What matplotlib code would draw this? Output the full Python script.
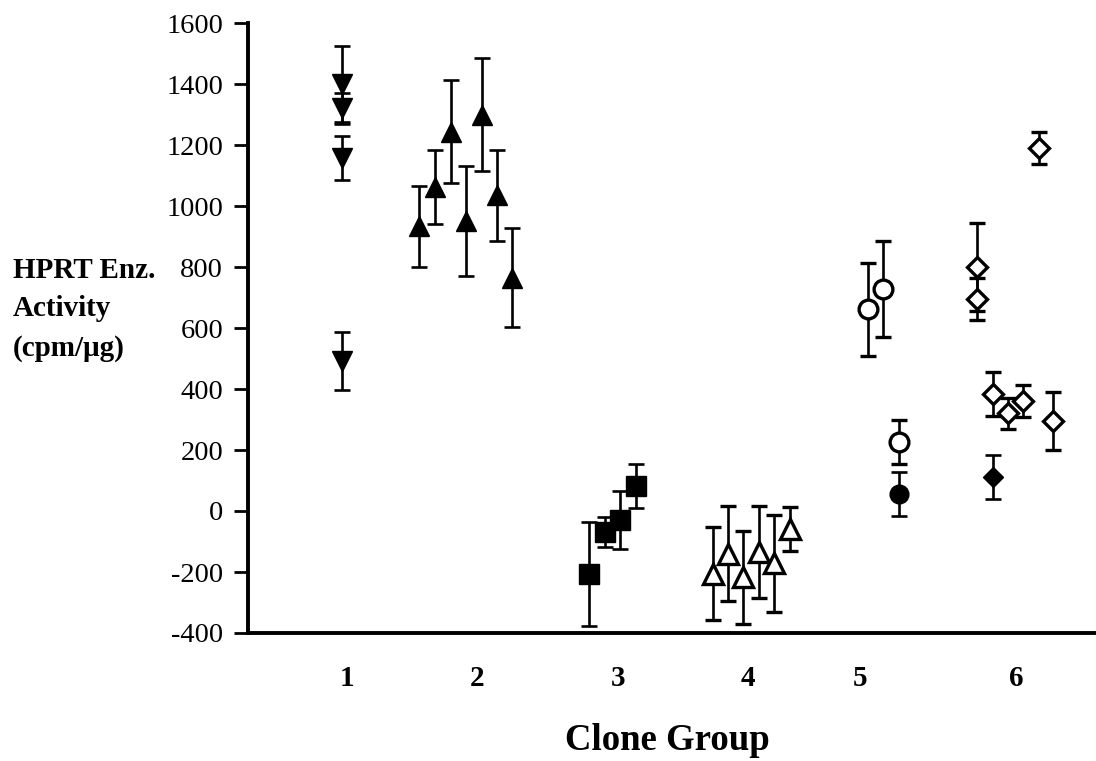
import matplotlib
matplotlib.use('Agg')
import matplotlib.pyplot as plt

plt.rcParams['font.family'] = ['Liberation Serif', 'DejaVu Serif']
plt.rcParams['axes.unicode_minus'] = False

# ---------------- data ----------------
g1_x = [0.962, 0.962, 0.962, 0.962]
g1_y = [1400, 1320, 1157, 492]
g1_err = [125, 50, 73, 95]

g2_x = [1.554, 1.677, 1.800, 1.915, 2.038, 2.154, 2.269]
g2_y = [934, 1062, 1244, 950, 1300, 1035, 765]
g2_err = [133, 121, 168, 180, 185, 150, 163]

g3_x = [2.862, 2.985, 3.100, 3.223]
g3_y = [-206, -69, -30, 82]
g3_err = [170, 50, 95, 71]

g4_x = [3.815, 3.931, 4.046, 4.169, 4.285, 4.408]
g4_y = [-205, -140, -218, -135, -172, -58]
g4_err = [153, 155, 152, 150, 160, 72]

g5_open_x = [5.008, 5.123, 5.246]
g5_open_y = [661, 727, 227]
g5_open_err = [153, 158, 72]
g5_fill_x = [5.246]
g5_fill_y = [55]
g5_fill_err = [73]

g6_open_x = [5.844, 5.844, 5.964, 6.082, 6.202, 6.318, 6.433]
g6_open_y = [800, 695, 383, 320, 360, 1191, 295]
g6_open_err = [143, 70, 73, 50, 52, 52, 95]
g6_fill_x = [5.964]
g6_fill_y = [112]
g6_fill_err = [72]

group_labels = ['1', '2', '3', '4', '5', '6']
group_ticks = [1.0, 2.0, 3.085, 4.085, 4.946, 6.15]
y_ticks = [-400, -200, 0, 200, 400, 600, 800, 1000, 1200, 1400, 1600]

# ---------------- figure ----------------
W, H = 1096, 761
fig = plt.figure(figsize=(W / 100, H / 100), dpi=100)
ax = fig.add_axes([248 / W, 1 - 633 / H, (1096 - 248) / W, (633 - 23) / H])

eb = dict(color='black', ecolor='black', elinewidth=1.9, capsize=5.5,
          capthick=1.9, linestyle='none')

ax.errorbar(g1_x, g1_y, yerr=g1_err, marker='v', ms=14, mfc='black',
            mec='black', **eb)
ax.errorbar(g2_x, g2_y, yerr=g2_err, marker='^', ms=14, mfc='black',
            mec='black', **eb)
ax.errorbar(g3_x, g3_y, yerr=g3_err, marker='s', ms=14, mfc='black',
            mec='black', **eb)
ax.errorbar(g4_x, g4_y, yerr=g4_err, marker='^', ms=14, mfc='white',
            mec='black', mew=2.4, **eb)
ax.errorbar(g5_open_x, g5_open_y, yerr=g5_open_err, marker='o', ms=13.5,
            mfc='white', mec='black', mew=2.4, **eb)
ax.errorbar(g5_fill_x, g5_fill_y, yerr=g5_fill_err, marker='o', ms=13.5,
            mfc='black', mec='black', **eb)
ax.errorbar(g6_open_x, g6_open_y, yerr=g6_open_err, marker='D', ms=10,
            mfc='white', mec='black', mew=2.4, **eb)
ax.errorbar(g6_fill_x, g6_fill_y, yerr=g6_fill_err, marker='D', ms=10,
            mfc='black', mec='black', **eb)

ax.set_xlim(0.238, 6.76)
ax.set_ylim(-400, 1600)
ax.set_yticks(y_ticks)
ax.set_yticklabels([str(v) for v in y_ticks])
ax.set_xticks(group_ticks)
ax.set_xticklabels(group_labels, fontweight='bold')

for s in ['top', 'right']:
    ax.spines[s].set_visible(False)
for s in ['left', 'bottom']:
    ax.spines[s].set_linewidth(2.8)

ax.tick_params(axis='y', direction='out', length=10, width=2.0,
               labelsize=20.5, pad=8)
ax.tick_params(axis='x', length=0, labelsize=21, pad=23)

# y-axis label block (three lines, left aligned)
ylab_lines = ['HPRT Enz.', 'Activity', '(cpm/\u03bcg)']
ylab_y_px = [271, 308, 348]
for txt, ypx in zip(ylab_lines, ylab_y_px):
    fig.text(13 / W, 1 - ypx / H, txt, ha='left', va='center',
             fontsize=21, fontweight='bold')

fig.text(667 / W, 1 - 740 / H, 'Clone Group', ha='center', va='center',
         fontsize=26.5, fontweight='bold')

fig.savefig('out.png', dpi=100)
